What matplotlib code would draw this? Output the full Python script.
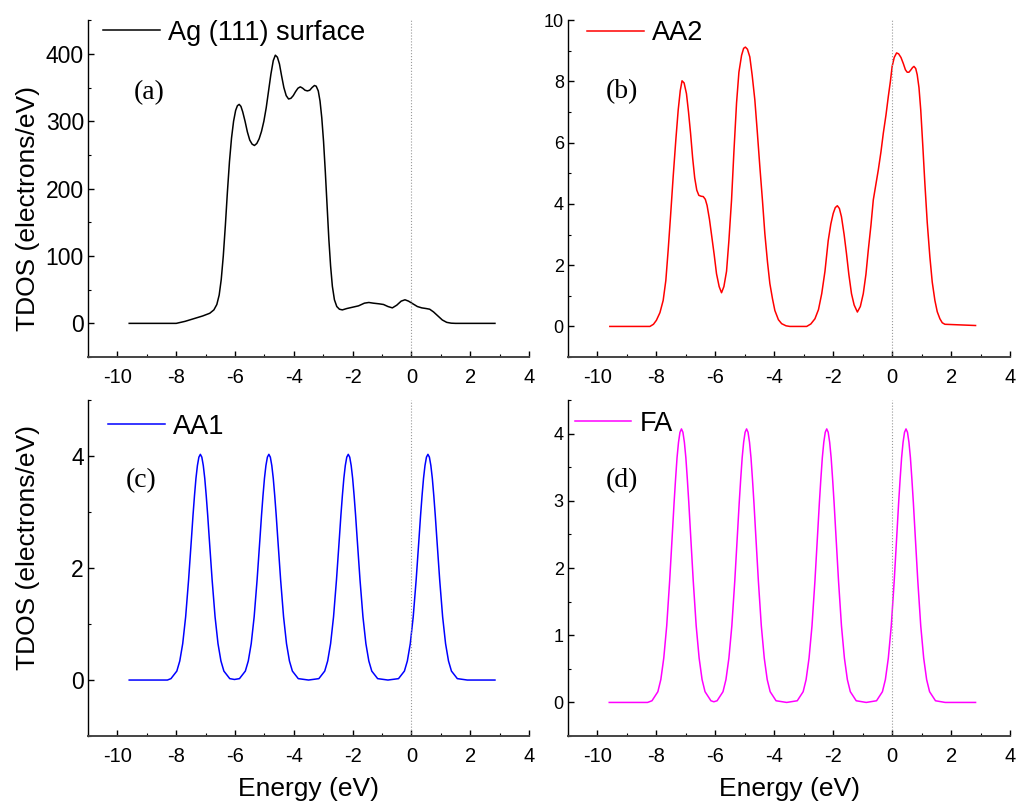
import matplotlib
matplotlib.use("Agg")
import matplotlib.pyplot as plt
from matplotlib.ticker import MultipleLocator

plt.rcParams['font.family'] = ['Liberation Sans', 'DejaVu Sans']
plt.rcParams['axes.unicode_minus'] = False

# (a) Ag (111) surface
ag_e = [-9.6, -8.0, -7.7, -7.4, -7.1, -6.86, -6.72, -6.62, -6.54, -6.47, -6.40, -6.33, -6.26, -6.19,
        -6.12, -6.05, -5.98, -5.92, -5.86, -5.80, -5.74, -5.66, -5.58, -5.50, -5.42, -5.34, -5.26,
        -5.18, -5.10, -5.02, -4.94, -4.86, -4.78, -4.70, -4.63, -4.56, -4.49, -4.42, -4.34, -4.26,
        -4.18, -4.10, -4.02, -3.94, -3.86, -3.78, -3.70, -3.62, -3.54, -3.46, -3.38, -3.30, -3.24,
        -3.17, -3.11, -3.05, -2.99, -2.93, -2.87, -2.81, -2.75, -2.69, -2.62, -2.54, -2.45, -2.35,
        -2.2, -2.0, -1.8, -1.6, -1.45, -1.3, -1.1, -0.95, -0.8, -0.65, -0.5, -0.35, -0.22, -0.1,
        0.05, 0.2, 0.35, 0.5, 0.62, 0.75, 0.9, 1.05, 1.2, 1.35, 1.5, 2.84]
ag_dos = [0, 0, 3, 7, 11, 15, 20, 28, 42, 65, 100, 145, 195, 240,
          275, 300, 316, 323, 325, 322, 314, 300, 284, 272, 266, 264, 267,
          274, 285, 300, 320, 345, 370, 390, 398, 395, 385, 368, 350, 338,
          333, 334, 338, 344, 349, 351, 349, 346, 345, 346, 350, 353, 352,
          345, 330, 305, 270, 225, 175, 125, 85, 55, 35, 25, 21, 20,
          22, 24, 26, 30, 31, 30, 29, 28, 25, 23, 27, 33, 35, 33,
          29, 25, 23, 22, 21, 17, 11, 5, 1.5, 0.3, 0, 0]

# (b) AA2
aa2_e = [-9.58, -8.22, -8.1, -8.0, -7.88, -7.77, -7.68, -7.60, -7.52, -7.43, -7.34, -7.26, -7.19,
         -7.13, -7.06, -6.98, -6.91, -6.84, -6.77, -6.70, -6.63, -6.56, -6.48, -6.41, -6.34, -6.28,
         -6.20, -6.13, -6.04, -5.96, -5.87, -5.79, -5.71, -5.62, -5.54, -5.45, -5.37, -5.28, -5.20,
         -5.11, -5.04, -4.98, -4.91, -4.83, -4.75, -4.66, -4.58, -4.49, -4.40, -4.32, -4.23, -4.15,
         -4.06, -3.98, -3.86, -3.75, -3.6, -3.47, -2.9, -2.76, -2.62, -2.50, -2.39, -2.28, -2.17,
         -2.08, -2.0, -1.93, -1.86, -1.79, -1.72, -1.63, -1.55, -1.47, -1.38, -1.29, -1.18, -1.08,
         -0.98, -0.89, -0.81, -0.72, -0.64, -0.55, -0.47, -0.38, -0.30, -0.21, -0.13, -0.06, 0.0,
         0.07, 0.15, 0.22, 0.30, 0.38, 0.45, 0.51, 0.57, 0.63, 0.69, 0.74, 0.80, 0.85, 0.91, 0.97,
         1.04, 1.11, 1.19, 1.28, 1.36, 1.45, 1.53, 1.62, 1.70, 1.79, 2.83]
aa2_dos = [0, 0, 0.07, 0.2, 0.45, 0.85, 1.5, 2.5, 3.6, 4.9, 6.1, 7.07, 7.7,
           8.02, 7.95, 7.6, 7.0, 6.3, 5.5, 4.85, 4.45, 4.28, 4.25, 4.24, 4.15, 3.95,
           3.5, 3.0, 2.35, 1.72, 1.3, 1.10, 1.3, 1.8, 2.8, 4.13, 5.7, 7.3, 8.3,
           8.85, 9.08, 9.12, 9.05, 8.8, 8.2, 7.4, 6.4, 5.22, 4.1, 3.03, 2.1, 1.40,
           0.9, 0.52, 0.22, 0.09, 0.02, 0, 0, 0.08, 0.25, 0.55, 1.07, 1.8, 2.8,
           3.35, 3.69, 3.88, 3.94, 3.85, 3.58, 3.0, 2.38, 1.7, 1.07, 0.7, 0.47, 0.65,
           1.07, 1.7, 2.49, 3.3, 4.13, 4.65, 5.11, 5.7, 6.31, 6.9, 7.51, 8.0, 8.49,
           8.78, 8.93, 8.9, 8.78, 8.58, 8.38, 8.3, 8.3, 8.37, 8.45, 8.49, 8.42, 8.22, 7.8, 7.07,
           5.9, 4.67, 3.4, 2.27, 1.45, 0.85, 0.48, 0.25, 0.12, 0.07, 0.03]

# (c) AA1
aa1_e = [-9.6, -8.3,
         -8.18, -7.98, -7.88, -7.78, -7.68, -7.58, -7.48, -7.43, -7.38, -7.33, -7.28, -7.23, -7.18,
         -7.13, -7.08, -7.03, -6.98, -6.93, -6.88, -6.78, -6.68, -6.58, -6.48, -6.38, -6.18,
         -6.02,
         -5.85, -5.65, -5.55, -5.45, -5.35, -5.25, -5.15, -5.10, -5.05, -5.00, -4.95, -4.90, -4.85,
         -4.80, -4.75, -4.70, -4.65, -4.60, -4.55, -4.45, -4.35, -4.25, -4.15, -4.05, -3.85,
         -3.5,
         -3.15, -2.95, -2.85, -2.75, -2.65, -2.55, -2.45, -2.40, -2.35, -2.30, -2.25, -2.20, -2.15,
         -2.10, -2.05, -2.00, -1.95, -1.90, -1.85, -1.75, -1.65, -1.55, -1.45, -1.35, -1.15,
         -0.8,
         -0.44, -0.24, -0.14, -0.04, 0.06, 0.16, 0.26, 0.31, 0.36, 0.41, 0.46, 0.51, 0.56,
         0.61, 0.66, 0.71, 0.76, 0.81, 0.86, 0.96, 1.06, 1.16, 1.26, 1.36, 1.56,
         1.9, 2.84]
aa1_dos = [0, 0,
           0.025, 0.16, 0.34, 0.65, 1.13, 1.79, 2.55, 2.94, 3.29, 3.60, 3.83, 3.98, 4.03,
           3.98, 3.83, 3.60, 3.29, 2.94, 2.55, 1.79, 1.13, 0.65, 0.34, 0.16, 0.025,
           0.01,
           0.025, 0.16, 0.34, 0.65, 1.13, 1.79, 2.55, 2.94, 3.29, 3.60, 3.83, 3.98, 4.03,
           3.98, 3.83, 3.60, 3.29, 2.94, 2.55, 1.79, 1.13, 0.65, 0.34, 0.16, 0.025,
           0,
           0.025, 0.16, 0.34, 0.65, 1.13, 1.79, 2.55, 2.94, 3.29, 3.60, 3.83, 3.98, 4.03,
           3.98, 3.83, 3.60, 3.29, 2.94, 2.55, 1.79, 1.13, 0.65, 0.34, 0.16, 0.025,
           0,
           0.025, 0.16, 0.34, 0.65, 1.13, 1.79, 2.55, 2.94, 3.29, 3.60, 3.83, 3.98, 4.03,
           3.98, 3.83, 3.60, 3.29, 2.94, 2.55, 1.79, 1.13, 0.65, 0.34, 0.16, 0.025,
           0, 0]

# (d) FA
fa_e = [-9.6, -8.3,
        -8.15, -7.95, -7.85, -7.75, -7.65, -7.55, -7.45, -7.40, -7.35, -7.30, -7.25, -7.20, -7.15,
        -7.10, -7.05, -7.00, -6.95, -6.90, -6.85, -6.75, -6.65, -6.55, -6.45, -6.35, -6.15,
        -6.05,
        -5.94, -5.74, -5.64, -5.54, -5.44, -5.34, -5.24, -5.19, -5.14, -5.09, -5.04, -4.99, -4.94,
        -4.89, -4.84, -4.79, -4.74, -4.69, -4.64, -4.54, -4.44, -4.34, -4.24, -4.14, -3.94,
        -3.58,
        -3.22, -3.02, -2.92, -2.82, -2.72, -2.62, -2.52, -2.47, -2.42, -2.37, -2.32, -2.27, -2.22,
        -2.17, -2.12, -2.07, -2.02, -1.97, -1.92, -1.82, -1.72, -1.62, -1.52, -1.42, -1.22,
        -0.88,
        -0.53, -0.33, -0.23, -0.13, -0.03, 0.07, 0.17, 0.22, 0.27, 0.32, 0.37, 0.42, 0.47,
        0.52, 0.57, 0.62, 0.67, 0.72, 0.77, 0.87, 0.97, 1.07, 1.17, 1.27, 1.47,
        1.8, 2.83]
fa_dos = [0, 0,
          0.025, 0.16, 0.34, 0.66, 1.14, 1.81, 2.58, 2.97, 3.32, 3.64, 3.87, 4.02, 4.07,
          4.02, 3.87, 3.64, 3.32, 2.97, 2.58, 1.81, 1.14, 0.66, 0.34, 0.16, 0.025,
          0.01,
          0.025, 0.16, 0.34, 0.66, 1.14, 1.81, 2.58, 2.97, 3.32, 3.64, 3.87, 4.02, 4.07,
          4.02, 3.87, 3.64, 3.32, 2.97, 2.58, 1.81, 1.14, 0.66, 0.34, 0.16, 0.025,
          0,
          0.025, 0.16, 0.34, 0.66, 1.14, 1.81, 2.58, 2.97, 3.32, 3.64, 3.87, 4.02, 4.07,
          4.02, 3.87, 3.64, 3.32, 2.97, 2.58, 1.81, 1.14, 0.66, 0.34, 0.16, 0.025,
          0,
          0.025, 0.16, 0.34, 0.66, 1.14, 1.81, 2.58, 2.97, 3.32, 3.64, 3.87, 4.02, 4.07,
          4.02, 3.87, 3.64, 3.32, 2.97, 2.58, 1.81, 1.14, 0.66, 0.34, 0.16, 0.025,
          0, 0]

fig = plt.figure(figsize=(10.19, 8.06), dpi=100)

panels = [
    # rect, x, y, colour, legend, tag, ylim, ymajor, yminor, ytick size, legend pos, tag pos
    ([0.0864, 0.557, 0.4328, 0.418], ag_e, ag_dos, 'black', 'Ag (111) surface', '(a)',
     (-50, 450), 100, 50, 16.5, (0.035, 0.962), (0.139, 0.784)),
    ([0.5574, 0.557, 0.4338, 0.418], aa2_e, aa2_dos, '#ff0000', 'AA2', '(b)',
     (-1, 10), 2, 1, 13, (0.043, 0.961), (0.121, 0.789)),
    ([0.0864, 0.0868, 0.4328, 0.4169], aa1_e, aa1_dos, '#0000ff', 'AA1', '(c)',
     (-1, 5), 2, 1, 16.5, (0.045, 0.921), (0.121, 0.760)),
    ([0.5574, 0.0868, 0.4338, 0.4169], fa_e, fa_dos, '#ff00ff', 'FA', '(d)',
     (-0.5, 4.5), 1, 0.5, 13, (0.015, 0.929), (0.121, 0.760)),
]

axes = []
for rect, xs, ys, col, lab, tag, ylim, ymaj, ymin, ysize, lpos, tpos in panels:
    ax = fig.add_axes(rect)
    ax.plot(xs, ys, color=col, lw=1.1, label=lab)
    ax.axvline(0, color='#999999', ls=':', lw=0.8)
    ax.set_xlim(-11, 4)
    ax.set_ylim(*ylim)
    ax.xaxis.set_major_locator(MultipleLocator(2))
    ax.xaxis.set_minor_locator(MultipleLocator(1))
    ax.yaxis.set_major_locator(MultipleLocator(ymaj))
    ax.yaxis.set_minor_locator(MultipleLocator(ymin))
    ax.spines['top'].set_visible(False)
    ax.spines['right'].set_visible(False)
    ax.spines['left'].set_linewidth(1.0)
    ax.spines['bottom'].set_linewidth(1.4)
    ax.spines['bottom'].set_color('#444444')
    ax.tick_params(which='major', direction='in', length=4.5, width=1.0)
    ax.tick_params(which='minor', direction='in', length=2.5, width=0.8)
    ax.tick_params(axis='x', labelsize=14.5, pad=8)
    ax.tick_params(axis='y', labelsize=ysize, pad=3)
    leg = ax.legend(loc='center left', bbox_to_anchor=lpos, frameon=False, fontsize=19.5,
                    handlelength=2.1, handletextpad=0.3, borderpad=0, borderaxespad=0)
    ax.text(tpos[0], tpos[1], tag, transform=ax.transAxes, ha='center', va='center',
            fontsize=20, family=['Liberation Serif', 'DejaVu Serif'])
    axes.append(ax)

axes[0].set_ylabel('TDOS (electrons/eV)', fontsize=19)
axes[0].yaxis.set_label_coords(-0.11, 0.44)
axes[2].set_ylabel('TDOS (electrons/eV)', fontsize=19)
axes[2].yaxis.set_label_coords(-0.11, 0.56)
axes[2].set_xlabel('Energy (eV)', fontsize=19, labelpad=8)
axes[3].set_xlabel('Energy (eV)', fontsize=19, labelpad=8)

fig.savefig('out.png', dpi=100)
